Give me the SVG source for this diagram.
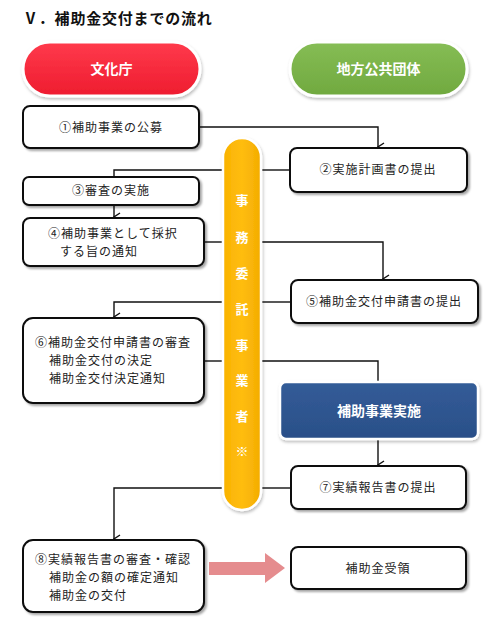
<svg xmlns="http://www.w3.org/2000/svg" width="500" height="620" viewBox="0 0 500 620">
<defs>
<style>
.t{font-family:"Noto Sans CJK JP","Noto Sans",sans-serif;font-size:12px;fill:#222;letter-spacing:1px}
.h{font-family:"Noto Sans CJK JP","Noto Sans",sans-serif;font-weight:bold;fill:#fff}
.box{fill:#fff;stroke:#111;stroke-width:2;filter:url(#sh)}
.ln{fill:none;stroke:#111;stroke-width:1.4}
</style>
<filter id="sh" x="-10%" y="-20%" width="125%" height="150%">
<feDropShadow dx="2" dy="2" stdDeviation="1.2" flood-color="#000" flood-opacity="0.35"/>
</filter>
<filter id="sh2" x="-10%" y="-10%" width="125%" height="130%">
<feDropShadow dx="1" dy="2" stdDeviation="1.5" flood-color="#000" flood-opacity="0.25"/>
</filter>
<marker id="ar" markerWidth="10" markerHeight="10" refX="5" refY="9" orient="auto" markerUnits="userSpaceOnUse" viewBox="0 0 10 10">
<path d="M1,3 L5,9 L9,3" fill="none" stroke="#111" stroke-width="1.4"/>
</marker>
<linearGradient id="gr" x1="0" y1="0" x2="0" y2="1"><stop offset="0" stop-color="#ff3a4c"/><stop offset="1" stop-color="#ee1c2f"/></linearGradient>
<linearGradient id="gg" x1="0" y1="0" x2="0" y2="1"><stop offset="0" stop-color="#86bd55"/><stop offset="1" stop-color="#70a93f"/></linearGradient>
<linearGradient id="gb" x1="0" y1="0" x2="0" y2="1"><stop offset="0" stop-color="#335c98"/><stop offset="1" stop-color="#2a4f88"/></linearGradient>
<linearGradient id="gy" x1="0" y1="0" x2="1" y2="0"><stop offset="0" stop-color="#f9b200"/><stop offset="0.5" stop-color="#ffbd10"/><stop offset="1" stop-color="#f3ac00"/></linearGradient>
</defs>
<rect width="500" height="620" fill="#fff"/>
<text x="23" y="24" font-family="'Noto Sans CJK JP','Noto Sans',sans-serif" font-weight="bold" font-size="15" letter-spacing="0.8" fill="#111">Ⅴ．補助金交付までの流れ</text>

<g id="connectors">
<polyline class="ln" points="199,127 378,127 378,147" marker-end="url(#ar)"/>
<line class="ln" x1="290" y1="170" x2="261" y2="170"/>
<polyline class="ln" points="223,170 114,170 114,177"/>
<line class="ln" x1="114" y1="205" x2="114" y2="217" marker-end="url(#ar)"/>
<line class="ln" x1="204" y1="242" x2="223" y2="242"/>
<polyline class="ln" points="261,242 383,242 383,279" marker-end="url(#ar)"/>
<line class="ln" x1="291" y1="302" x2="261" y2="302"/>
<polyline class="ln" points="223,302 114,302 114,317" marker-end="url(#ar)"/>
<line class="ln" x1="204" y1="361" x2="223" y2="361"/>
<polyline class="ln" points="261,361 378,361 378,382"/>
<line class="ln" x1="378" y1="440" x2="378" y2="465" marker-end="url(#ar)"/>
<line class="ln" x1="291" y1="488" x2="261" y2="488"/>
<polyline class="ln" points="223,488 114,488 114,539" marker-end="url(#ar)"/>
<path d="M209,562 L265,562 L265,553 L285,568 L265,583 L265,575 L209,575 Z" fill="#e58c8e"/>
</g>

<g id="bunkacho">
<rect x="23" y="42" width="177" height="54" rx="27" fill="url(#gr)" stroke="#fff" stroke-width="3" filter="url(#sh2)"/>
<text class="h" x="111.5" y="74" font-size="14" text-anchor="middle">文化庁</text>
</g>
<g id="chiho">
<rect x="290" y="42" width="177" height="54" rx="27" fill="url(#gg)" stroke="#fff" stroke-width="3" filter="url(#sh2)"/>
<text class="h" x="378.5" y="74" font-size="14" text-anchor="middle">地方公共団体</text>
</g>
<g id="jimu">
<rect x="223" y="138" width="38" height="372" rx="19" fill="url(#gy)" stroke="#fff" stroke-width="2.5" filter="url(#sh2)"/>
<g class="h" font-size="13" text-anchor="middle">
<text x="242" y="205">事</text>
<text x="242" y="242">務</text>
<text x="242" y="278">委</text>
<text x="242" y="314">託</text>
<text x="242" y="350">事</text>
<text x="242" y="385">業</text>
<text x="242" y="421">者</text>
<text x="242" y="456">※</text>
</g>
</g>
<g id="n1">
<rect class="box" x="23" y="106" width="176" height="42" rx="7"/>
<text class="t" x="111" y="132" text-anchor="middle">①補助事業の公募</text>
</g>
<g id="n2">
<rect class="box" x="290" y="148" width="177" height="44" rx="7"/>
<text class="t" x="378" y="174" text-anchor="middle">②実施計画書の提出</text>
</g>
<g id="n3">
<rect class="box" x="23" y="177" width="176" height="28" rx="6"/>
<text class="t" x="111" y="195" text-anchor="middle">③審査の実施</text>
</g>
<g id="n4">
<rect class="box" x="23" y="218" width="181" height="48" rx="7"/>
<text class="t" x="48" y="238">④補助事業として採択</text>
<text class="t" x="60" y="256">する旨の通知</text>
</g>
<g id="n5">
<rect class="box" x="291" y="280" width="187" height="43" rx="7"/>
<text class="t" x="384" y="306" text-anchor="middle">⑤補助金交付申請書の提出</text>
</g>
<g id="n6">
<rect class="box" x="23" y="318" width="181" height="85" rx="10"/>
<text class="t" x="35" y="347">⑥補助金交付申請書の審査</text>
<text class="t" x="49" y="365">補助金交付の決定</text>
<text class="t" x="49" y="383">補助金交付決定通知</text>
</g>
<g id="jisshi">
<rect x="280" y="382" width="198" height="57" rx="6" fill="url(#gb)" stroke="#fff" stroke-width="2.5" filter="url(#sh2)"/>
<text class="h" x="379" y="416" font-size="14" text-anchor="middle">補助事業実施</text>
</g>
<g id="n7">
<rect class="box" x="291" y="466" width="175" height="43" rx="7"/>
<text class="t" x="378" y="492" text-anchor="middle">⑦実績報告書の提出</text>
</g>
<g id="n8">
<rect class="box" x="23" y="540" width="181" height="72" rx="10"/>
<text class="t" x="35" y="564">⑧実績報告書の審査・確認</text>
<text class="t" x="49" y="582">補助金の額の確定通知</text>
<text class="t" x="49" y="600">補助金の交付</text>
</g>
<g id="n9">
<rect class="box" x="291" y="547" width="175" height="42" rx="7"/>
<text class="t" x="378" y="573" text-anchor="middle">補助金受領</text>
</g>
</svg>
